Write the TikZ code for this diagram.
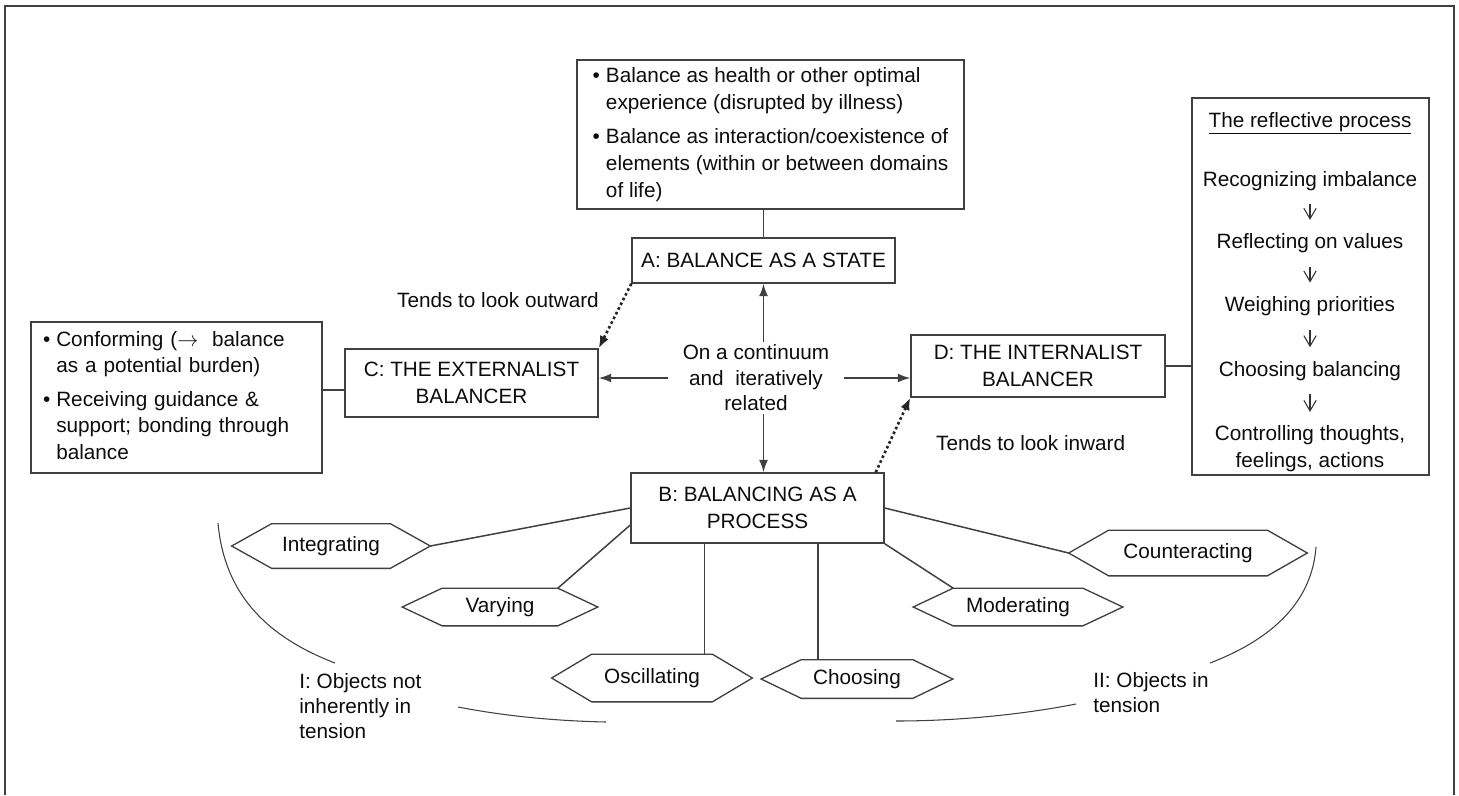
\documentclass[tikz,border=0pt]{standalone}
\usepackage{fontspec}
\setmainfont{Liberation Sans}
\usetikzlibrary{positioning,arrows.meta}

\newcommand{\hexframe}[1]{%
  \draw[hexline] (#1.west) -- ([xshift=0.8cm]#1.north west) -- ([xshift=-0.8cm]#1.north east)
    -- (#1.east) -- ([xshift=-0.8cm]#1.south east) -- ([xshift=0.8cm]#1.south west) -- cycle;}

\begin{document}
\begin{tikzpicture}[x=0.02cm, y=-0.02cm,
        every node/.style={font=\fontsize{11.8}{15}\selectfont, text=black!95},
        box/.style={rectangle, draw=black!75, line width=0.85pt, align=center, inner sep=0pt},
        hexnode/.style={rectangle, inner sep=0pt, minimum height=0.88cm},
        hexline/.style={draw=black!75, line width=0.75pt},
        plainline/.style={draw=black!75, line width=0.85pt},
        arr/.style={plainline, -{Latex[length=7pt,width=5pt]}},
        dotarr/.style={draw=black!85, line width=1.5pt, dash pattern=on 1.5pt off 1.5pt, -{Latex[length=7pt,width=5.5pt]}},
        stepnode/.style={inner sep=0pt, text height=0.3cm, text depth=0.09cm},
        steparr/.style={draw=black!80, line width=0.6pt, -{Straight Barb[length=6pt,width=7pt]}, shorten <=0.27cm, shorten >=0.27cm},
        bracket/.style={draw=black!75, line width=0.6pt},
        ]
        \fill[white] (0,0) rectangle (1459,795);
        \useasboundingbox (0,0) rectangle (1459,795);
        \draw[plainline] (5,795) -- (5,6) -- (1454,6) -- (1454,795);

        %Nodes
        \node[box, minimum width=7.74cm, minimum height=2.98cm, font=\fontsize{11.8}{15.5}\selectfont] (tbox) at (770.5,134.5) {%
            \begin{tabular}{@{}l@{\hspace{0.12cm}}l@{}}
            • & Balance as health or other optimal\\
              & experience (disrupted by illness)\\[3.5pt]
            • & Balance as interaction/coexistence of\\
              & elements (within or between domains\\
              & of life)
            \end{tabular}};
        \node[box, minimum width=5.26cm, minimum height=0.9cm] (A) at (763.5,260.5) {A: BALANCE AS A STATE};
        \node[box, minimum width=5.06cm, minimum height=1.36cm] (C) at (471.5,383) {C: THE EXTERNALIST\\BALANCER};
        \node[box, text width=5.34cm, align=left, inner xsep=0.24cm, minimum height=3.02cm] (clist) at (176.5,397.5) {%
            \begin{tabular}{@{}l@{\hspace{0.12cm}}l@{}}
            • & Conforming ($\rightarrow$\ \ balance\\
              & as a potential burden)\\[4pt]
            • & Receiving guidance \&\\
              & support; bonding through\\
              & balance
            \end{tabular}};
        \node[box, minimum width=5.08cm, minimum height=1.24cm] (D) at (1038,366) {D: THE INTERNALIST\\BALANCER};
        \node[box, minimum width=5.06cm, minimum height=1.4cm] (B) at (757.5,508) {B: BALANCING AS A\\PROCESS};
        \node[box, minimum width=4.74cm, minimum height=7.54cm] (rbox) at (1310.5,286.5) {};
        \node[align=center, inner xsep=0.28cm, inner ysep=0.06cm, font=\fontsize{11.8}{14.5}\selectfont] (cont) at (756,378) {On a continuum\\and\ \ iteratively\\related};

        \node[anchor=base east] (outlbl) at (605,307) {Tends to look outward};
        \node[anchor=base west] (inlbl) at (930,450) {Tends to look inward};

        \node[hexnode, minimum width=3.96cm] (int) at (331,546) {Integrating};
        \node[hexnode, minimum width=3.9cm, minimum height=0.74cm] (var) at (500,607) {Varying};
        \node[hexnode, minimum width=4.0cm, minimum height=0.94cm] (osc) at (652,678) {Oscillating};
        \node[hexnode, minimum width=3.82cm, minimum height=0.76cm] (cho) at (857,679) {Choosing};
        \node[hexnode, minimum width=4.18cm, minimum height=0.74cm] (mod) at (1018,607) {Moderating};
        \node[hexnode, minimum width=4.76cm, minimum height=0.9cm] (cnt) at (1188,553) {Counteracting};

        \node[anchor=base] (rhead) at (1310,127) {\underline{The reflective process}};
        \node[stepnode, anchor=base] (r1) at (1310,186) {Recognizing imbalance};
        \node[stepnode, below=0.85cm of r1] (r2) {Reflecting on values};
        \node[stepnode, below=0.85cm of r2] (r3) {Weighing priorities};
        \node[stepnode, below=0.89cm of r3] (r4) {Choosing balancing};
        \node[align=center, inner sep=0pt, below=0.89cm of r4] (r5) {Controlling thoughts,\\feelings, actions};

        \node[anchor=north west, align=left, inner sep=0pt, font=\fontsize{11.8}{14.3}\selectfont] (lbl1) at (299,673) {I: Objects not\\inherently in\\tension};
        \node[anchor=north west, align=left, inner sep=0pt, font=\fontsize{11.8}{14.3}\selectfont] (lbl2) at (1093,672) {II: Objects in\\tension};

        \hexframe{int}
        \hexframe{var}
        \hexframe{osc}
        \hexframe{cho}
        \hexframe{mod}
        \hexframe{cnt}

        \draw[plainline] (tbox.south -| A.north) -- (A.north);
        \draw[plainline] ([shift={(0,7)}]C.west) -- ([shift={(0,7)}]C.west -| clist.east);
        \draw[plainline] (D.east) -- (D.east -| rbox.west);

        \draw[arr] (cont.north -| A.south) -- (A.south);
        \draw[arr] (cont.south -| A.south) -- (B.north -| A.south);
        \draw[arr] (cont.west) -- (cont.west -| C.east);
        \draw[arr] (cont.east) -- (cont.east -| D.west);
        \draw[dotarr] (A.south west) -- (C.north east);
        \draw[dotarr] ([xshift=-0.18cm]B.north east) -- (D.south west);

        \draw[plainline] (B.west) -- (int.east);
        \draw[plainline] ([shift={(0,17)}]B.west) -- ([xshift=-0.8cm]var.north east);
        \draw[plainline] ([xshift=-0.96cm]osc.north east) -- ([xshift=-0.96cm]osc.north east |- B.south);
        \draw[plainline] ([xshift=1.14cm]cho.north west) -- ([xshift=1.14cm]cho.north west |- B.south);
        \draw[plainline] (B.south east) -- ([xshift=0.8cm]mod.north west);
        \draw[plainline] (B.east) -- (cnt.west);

        \draw[steparr] (r1) -- (r2);
        \draw[steparr] (r2) -- (r3);
        \draw[steparr] (r3) -- (r4);
        \draw[steparr] (r4) -- (r5);

        %Brackets
        \draw[bracket] (218,523) .. controls (224,590) and (262,635) .. (335,663);
        \draw[bracket] (458,707) .. controls (510,717) and (560,721) .. (606,722);
        \draw[bracket] (1316,547) .. controls (1312,600) and (1275,638) .. (1210,663);
        \draw[bracket] (1076,704) .. controls (1020,715) and (955,721) .. (896,721);
    \end{tikzpicture}
\end{document}
